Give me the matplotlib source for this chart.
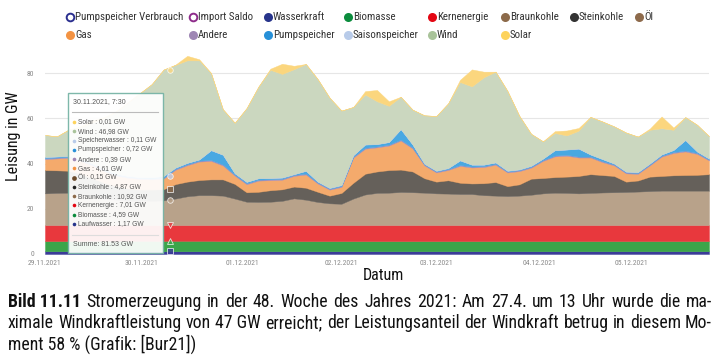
import matplotlib
matplotlib.use("Agg")
import matplotlib.pyplot as plt
from matplotlib import font_manager
from matplotlib.font_manager import FontProperties
from matplotlib.patches import Rectangle


# ----------------- Schrift: schmale Schnitte suchen -----------------
def find_narrow(bold=False):
    best = None
    for f in font_manager.fontManager.ttflist:
        if f.style != "normal":
            continue
        w = f.weight if isinstance(f.weight, int) else (700 if "bold" in str(f.weight) else 400)
        if bold != (w >= 600):
            continue
        if w not in (400, 700):
            continue
        narrow = ("Narrow" in f.name or "Condensed" in f.name
                  or "condensed" in str(f.stretch))
        if not narrow:
            continue
        rank = 0 if "Liberation" in f.name else 1 if "Roboto" in f.name else \
            2 if "Open Sans" in f.name else 3 if "Noto Sans" in f.name else 4
        if "extra" in str(f.stretch) or "ultra" in str(f.stretch):
            rank += 5
        if best is None or rank < best[0]:
            best = (rank, f.fname)
    if best is None:
        return FontProperties(family="Liberation Sans", weight="bold" if bold else "normal")
    return FontProperties(fname=best[1])


FP = find_narrow(False)
FP_BOLD = find_narrow(True)
PLAIN = "Liberation Sans"

# ----------------- Daten (GW, alle 3 Stunden ab 29.11.2021 00:00) -----------------
HOURS = list(range(0, 169, 3))

LAUF = [1.2, 1.2, 1.2, 1.2, 1.2, 1.2, 1.2, 1.2, 1.2, 1.2, 1.17, 1.2, 1.2, 1.2, 1.2,
        1.2, 1.2, 1.2, 1.2, 1.2, 1.2, 1.2, 1.2, 1.2, 1.2, 1.2, 1.2, 1.2, 1.2, 1.2,
        1.2, 1.2, 1.2, 1.2, 1.2, 1.2, 1.2, 1.2, 1.2, 1.2, 1.2, 1.2, 1.2, 1.2, 1.2,
        1.2, 1.2, 1.2, 1.2, 1.2, 1.2, 1.2, 1.2, 1.2, 1.2, 1.2, 1.2]
BIO = [4.5, 4.5, 4.5, 4.5, 4.6, 4.6, 4.6, 4.6, 4.6, 4.6, 4.59, 4.6, 4.6, 4.6, 4.6,
       4.5, 4.5, 4.5, 4.5, 4.5, 4.5, 4.5, 4.5, 4.5, 4.5, 4.5, 4.5, 4.5, 4.5, 4.5,
       4.5, 4.5, 4.5, 4.5, 4.5, 4.5, 4.5, 4.5, 4.5, 4.5, 4.5, 4.5, 4.5, 4.5, 4.5,
       4.5, 4.5, 4.5, 4.5, 4.5, 4.5, 4.5, 4.5, 4.5, 4.5, 4.5, 4.5]
KERN = [7.1, 7.1, 7.1, 7.1, 7.0, 7.0, 7.0, 7.0, 7.0, 7.0, 7.01, 7.0, 7.0, 7.0, 7.0,
        7.1, 7.1, 7.1, 7.1, 7.1, 7.1, 7.1, 7.1, 7.1, 7.1, 7.1, 7.1, 7.1, 7.1, 7.1,
        7.1, 7.1, 7.1, 7.1, 7.1, 7.1, 7.1, 7.1, 7.1, 7.1, 7.1, 7.1, 7.1, 7.1, 7.1,
        7.1, 7.1, 7.1, 7.1, 7.1, 7.1, 7.1, 7.1, 7.1, 7.1, 7.1, 7.1]
BRAUN = [14.0, 14.2, 14.3, 13.7, 12.7, 11.7, 11.2, 10.7, 10.7, 10.7, 10.92, 11.7, 12.7, 13.2, 13.2,
         13.0, 11.7, 10.3, 10.2, 10.3, 10.7, 11.8, 11.2, 10.2, 9.6, 9.4, 11.7, 13.5, 14.2, 14.3,
         14.6, 14.5, 14.3, 14.0, 13.9, 13.7, 13.7, 13.2, 13.0, 12.8, 13.0, 13.4, 14.0, 14.3, 14.2,
         14.0, 14.2, 14.4, 14.5, 14.6, 14.8, 15.0, 15.2, 15.2, 15.2, 15.2, 15.2]
STEIN = [10.2, 9.9, 9.6, 8.9, 7.9, 6.9, 5.9, 5.4, 4.9, 4.9, 4.87, 6.3, 6.4, 6.6, 6.9,
         7.1, 6.4, 4.1, 4.4, 5.0, 5.0, 5.1, 5.2, 4.4, 3.3, 4.7, 6.9, 9.1, 9.4, 9.9,
         9.8, 9.1, 6.3, 5.1, 5.8, 4.9, 4.6, 5.2, 5.9, 4.3, 4.9, 7.0, 6.7, 6.8, 7.1,
         7.6, 8.2, 7.6, 7.1, 4.5, 4.8, 6.3, 6.4, 6.7, 6.8, 6.9, 7.2]
OEL = [0.15, 0.15, 0.15, 0.15, 0.15, 0.15, 0.15, 0.15, 0.15, 0.15, 0.15, 0.15, 0.15, 0.15, 0.15,
       0.15, 0.15, 0.15, 0.15, 0.15, 0.15, 0.15, 0.15, 0.15, 0.15, 0.15, 0.15, 0.15, 0.15, 0.15,
       0.15, 0.15, 0.15, 0.15, 0.15, 0.15, 0.15, 0.15, 0.15, 0.15, 0.15, 0.15, 0.15, 0.15, 0.15,
       0.15, 0.15, 0.15, 0.15, 0.15, 0.15, 0.15, 0.15, 0.15, 0.15, 0.15, 0.15]
GAS = [4.8, 5.2, 5.7, 5.6, 5.6, 5.1, 4.6, 4.6, 4.6, 4.4, 4.61, 6.3, 7.2, 8.1, 8.1,
       6.1, 3.6, 3.5, 4.9, 4.4, 4.2, 4.7, 5.8, 3.6, 2.6, 2.6, 11.1, 11.0, 10.6, 10.8,
       12.8, 10.1, 5.6, 4.0, 4.5, 7.4, 7.0, 7.1, 7.6, 6.0, 5.8, 4.8, 7.5, 9.1, 9.2,
       8.1, 7.3, 5.7, 4.6, 3.6, 2.9, 4.9, 8.5, 9.8, 10.4, 9.2, 6.0]
ANDERE = [0.4, 0.4, 0.4, 0.4, 0.4, 0.4, 0.4, 0.4, 0.4, 0.4, 0.39, 0.4, 0.4, 0.4, 0.4,
          0.4, 0.4, 0.4, 0.4, 0.4, 0.4, 0.4, 0.4, 0.4, 0.4, 0.4, 0.4, 0.4, 0.4, 0.4,
          0.4, 0.4, 0.4, 0.4, 0.4, 0.4, 0.4, 0.4, 0.4, 0.4, 0.4, 0.4, 0.4, 0.4, 0.4,
          0.4, 0.4, 0.4, 0.4, 0.4, 0.4, 0.4, 0.4, 0.4, 0.4, 0.4, 0.4]
PUMP = [0.5, 0.4, 0.4, 0.4, 0.4, 0.4, 0.4, 0.4, 0.4, 0.6, 0.72, 0.5, 0.6, 0.5, 4.3,
        4.3, 0.6, 0.6, 0.6, 0.5, 0.5, 0.3, 1.2, 0.4, 0.3, 0.4, 0.6, 1.4, 1.0, 1.1,
        4.6, 1.3, 0.3, 0.3, 0.4, 2.0, 0.8, 0.6, 0.6, 0.3, 0.3, 0.4, 0.6, 2.3, 2.3,
        3.5, 0.9, 0.9, 0.4, 0.3, 0.3, 0.4, 0.5, 0.9, 4.6, 0.6, 0.4]
SPEICHER = [0.15, 0.15, 0.15, 0.15, 0.15, 0.15, 0.15, 0.15, 0.15, 0.15, 0.11, 0.15, 0.15, 0.15, 0.15,
            0.15, 0.15, 0.15, 0.15, 0.15, 0.15, 0.15, 0.15, 0.15, 0.15, 0.15, 0.15, 0.15, 0.15, 0.15,
            0.15, 0.15, 0.15, 0.15, 0.15, 0.15, 0.15, 0.15, 0.15, 0.15, 0.15, 0.15, 0.15, 0.15, 0.15,
            0.15, 0.15, 0.15, 0.15, 0.15, 0.15, 0.15, 0.15, 0.15, 0.15, 0.15, 0.15]
WIND = [9.6, 8.8, 11.5, 14.0, 18.0, 22.5, 27.5, 32.5, 37.0, 41.0, 46.98, 45.3, 45.2, 43.7, 34.0,
        20.0, 22.2, 32.5, 40.4, 47.7, 45.7, 46.3, 47.1, 45.2, 39.8, 32.8, 21.2, 22.0, 18.8, 15.9,
        14.2, 15.3, 21.3, 24.1, 28.5, 34.5, 34.5, 38.5, 40.0, 35.2, 23.6, 14.0, 7.5, 7.5, 6.1,
        7.8, 16.5, 16.5, 16.3, 17.2, 15.6, 14.8, 11.5, 8.8, 10.0, 11.7, 9.8]
SOLAR = [0, 0, 0, 0.3, 1.0, 0.4, 0, 0, 0, 0, 0.01, 0.1, 2.0, 0.5, 0,
         0, 0, 0, 0, 0.5, 4.5, 1.5, 0, 0, 0, 0, 0, 1.5, 5.0, 2.0,
         0, 0, 0, 0, 0, 1.0, 7.5, 2.5, 0, 0, 0, 0, 0, 0.8, 2.2,
         1.2, 0, 0, 0, 0, 0, 0.5, 5.2, 1.0, 0, 0, 0]

SERIES = [LAUF, BIO, KERN, BRAUN, STEIN, OEL, GAS, ANDERE, PUMP, SPEICHER, WIND, SOLAR]
FILL_COLORS = ["#3b3c98", "#3ca54a", "#e8383d", "#b8a28a", "#65605a", "#8a6a4b",
               "#f4aa6c", "#a08bbb", "#49a8e2", "#bccbe6", "#cbd7bf", "#fbd67e"]

TICK_HOURS = [0, 24.5, 50, 75, 99, 125, 148.5]
TICK_LABELS = ["29.11.2021", "30.11.2021", "01.12.2021", "02.12.2021",
               "03.12.2021", "04.12.2021", "05.12.2021"]

# Legende: (Text, Farbe, hohl, x, y) in Bildpunkten
LEGEND = [
    ("Pumpspeicher Verbrauch", "#2b2f8f", True, 70, 17),
    ("Import Saldo", "#8e2c8b", True, 193, 17),
    ("Wasserkraft", "#27348b", False, 268, 17),
    ("Biomasse", "#0b8c3d", False, 348, 17),
    ("Kernenergie", "#e30613", False, 432, 17),
    ("Braunkohle", "#8c6a4a", False, 505, 17),
    ("Steinkohle", "#333333", False, 574, 17),
    ("Öl", "#8d6a4b", False, 639, 17),
    ("Gas", "#f39343", False, 70, 35),
    ("Andere", "#9e86b4", False, 193, 35),
    ("Pumpspeicher", "#2790d8", False, 268, 35),
    ("Saisonspeicher", "#b8cbe9", False, 348, 35),
    ("Wind", "#a9c39a", False, 432, 35),
    ("Solar", "#fdd35c", False, 505, 35),
]

# Tooltip 30.11.2021, 7:30
TT_TITLE = "30.11.2021, 7:30"
TT_LABELS = ["Solar", "Wind", "Speicherwasser", "Pumpspeicher", "Andere", "Gas", "Öl",
             "Steinkohle", "Braunkohle", "Kernenergie", "Biomasse", "Laufwasser"]
TT_VALUES = ["0,01", "46,98", "0,11", "0,72", "0,39", "4,61", "0,15",
             "4,87", "10,92", "7,01", "4,59", "1,17"]
TT_COLORS = ["#fdd35c", "#a9c39a", "#b8cbe9", "#2790d8", "#9e86b4", "#f39343", "#6b4a2b",
             "#222222", "#8c6a4a", "#e30613", "#0b8c3d", "#27348b"]
TT_SUM = "Summe: 81.53 GW"

CAPTION_1 = ["Stromerzeugung", "in", "der", "48.", "Woche", "des", "Jahres", "2021:",
             "Am", "27.4.", "um", "13", "Uhr", "wurde", "die", "ma-"]
CAPTION_2 = ["ximale", "Windkraftleistung", "von", "47 GW", "erreicht;", "der",
             "Leistungsanteil", "der", "Windkraft", "betrug", "in", "diesem", "Mo-"]
CAPTION_3 = "ment 58 % (Grafik: [Bur21])"

# ----------------- Zeichnen -----------------
W, H = 721, 364
fig = plt.figure(figsize=(W / 100, H / 100), dpi=100)
fig.patch.set_facecolor("white")

ax = fig.add_axes([45 / W, 1 - 254 / H, 664 / W, (254 - 50.4) / H])
ax.stackplot(HOURS, *SERIES, colors=FILL_COLORS, linewidth=0.3, edgecolor="face")
ax.set_xlim(0, 168)
ax.set_ylim(0, 90)
ax.set_axisbelow(True)
ax.grid(axis="y", color="#e6e6e6", linewidth=0.8)
for s in ax.spines.values():
    s.set_visible(False)
ax.set_yticks([0, 20, 40, 60, 80])
ax.set_xticks(TICK_HOURS, TICK_LABELS)
ax.tick_params(length=0, labelcolor="#8a8a8a")
ax.tick_params(axis="y", pad=8)
ax.tick_params(axis="x", pad=4)
for lab in ax.get_xticklabels() + ax.get_yticklabels():
    lab.set_fontproperties(FP)
    lab.set_fontsize(5.5)

# Markierungen am Cursor
tops = []
acc = 0
for s in SERIES:
    acc += s[10]
    tops.append(acc)
for idx, mk in [(0, "s"), (1, "^"), (2, "v"), (3, "o"), (5, "s"), (9, "o"), (11, "o")]:
    ax.plot(31.5, tops[idx], marker=mk, ms=4, color=FILL_COLORS[idx],
            mec="white", mew=0.6, alpha=0.8, zorder=4, clip_on=False)

# Overlay in Bildpunkten
ov = fig.add_axes([0, 0, 1, 1], zorder=5)
ov.set_xlim(0, W)
ov.set_ylim(H, 0)
ov.axis("off")
ov.patch.set_alpha(0)

ov.text(14, 136, "Leisung in GW", rotation=90, ha="center", va="center",
        fontproperties=FP, fontsize=11.5, color="#111111")
ov.text(383, 276, "Datum", ha="center", va="center", fontproperties=FP,
        fontsize=11.5, color="#111111")

for text, col, hollow, x, y in LEGEND:
    if hollow:
        ov.plot(x, y, "o", ms=5.5, mfc="white", mec=col, mew=1.4)
    else:
        ov.plot(x, y, "o", ms=6.5, color=col, mew=0)
    ov.text(x + 5, y, text, ha="left", va="center", fontproperties=FP,
            fontsize=7.8, color="#333333")

# Tooltip
ov.add_patch(Rectangle((68, 93), 95, 160, facecolor="white", alpha=0.93,
                       edgecolor="#74b3a4", linewidth=1.0))
ov.text(73, 102, TT_TITLE, ha="left", va="center", fontsize=5, family=PLAIN, color="#555555")
ov.plot([72, 158], [112, 112], color="#bbbbbb", linewidth=0.8)
for i, (lab, val, col) in enumerate(zip(TT_LABELS, TT_VALUES, TT_COLORS)):
    y = 122 + i * 9.27
    ov.plot(74, y, "o", ms=2.6 if lab != "Öl" else 3.4, color=col, mew=0)
    ov.text(78, y, f"{lab} : {val} GW", ha="left", va="center", fontsize=4.8,
            family=PLAIN, color="#555555")
ov.plot([72, 158], [235, 235], color="#dddddd", linewidth=0.8)
ov.text(73, 244, TT_SUM, ha="left", va="center", fontsize=5, family=PLAIN, color="#555555")

# Bildunterschrift (Blocksatz)
renderer = fig.canvas.get_renderer()
CAP_FS = 12.8


def justified_line(words, y, x0, x1, bold_first=None):
    arts = []
    if bold_first:
        arts.append(ov.text(0, y, bold_first, fontproperties=FP_BOLD, fontsize=CAP_FS,
                            weight="bold", va="center", color="#111111"))
    for w in words:
        arts.append(ov.text(0, y, w, fontproperties=FP, fontsize=CAP_FS,
                            va="center", color="#111111"))
    widths = [a.get_window_extent(renderer).width for a in arts]
    gap = (x1 - x0 - sum(widths)) / (len(arts) - 1)
    x = x0
    for a, w in zip(arts, widths):
        a.set_x(x)
        x += w + gap


justified_line(CAPTION_1, 302, 8, 712, bold_first="Bild 11.11")
justified_line(CAPTION_2, 323, 8, 712)
ov.text(8, 344, CAPTION_3, fontproperties=FP, fontsize=CAP_FS, va="center", color="#111111")

fig.savefig("out.png", dpi=100)
